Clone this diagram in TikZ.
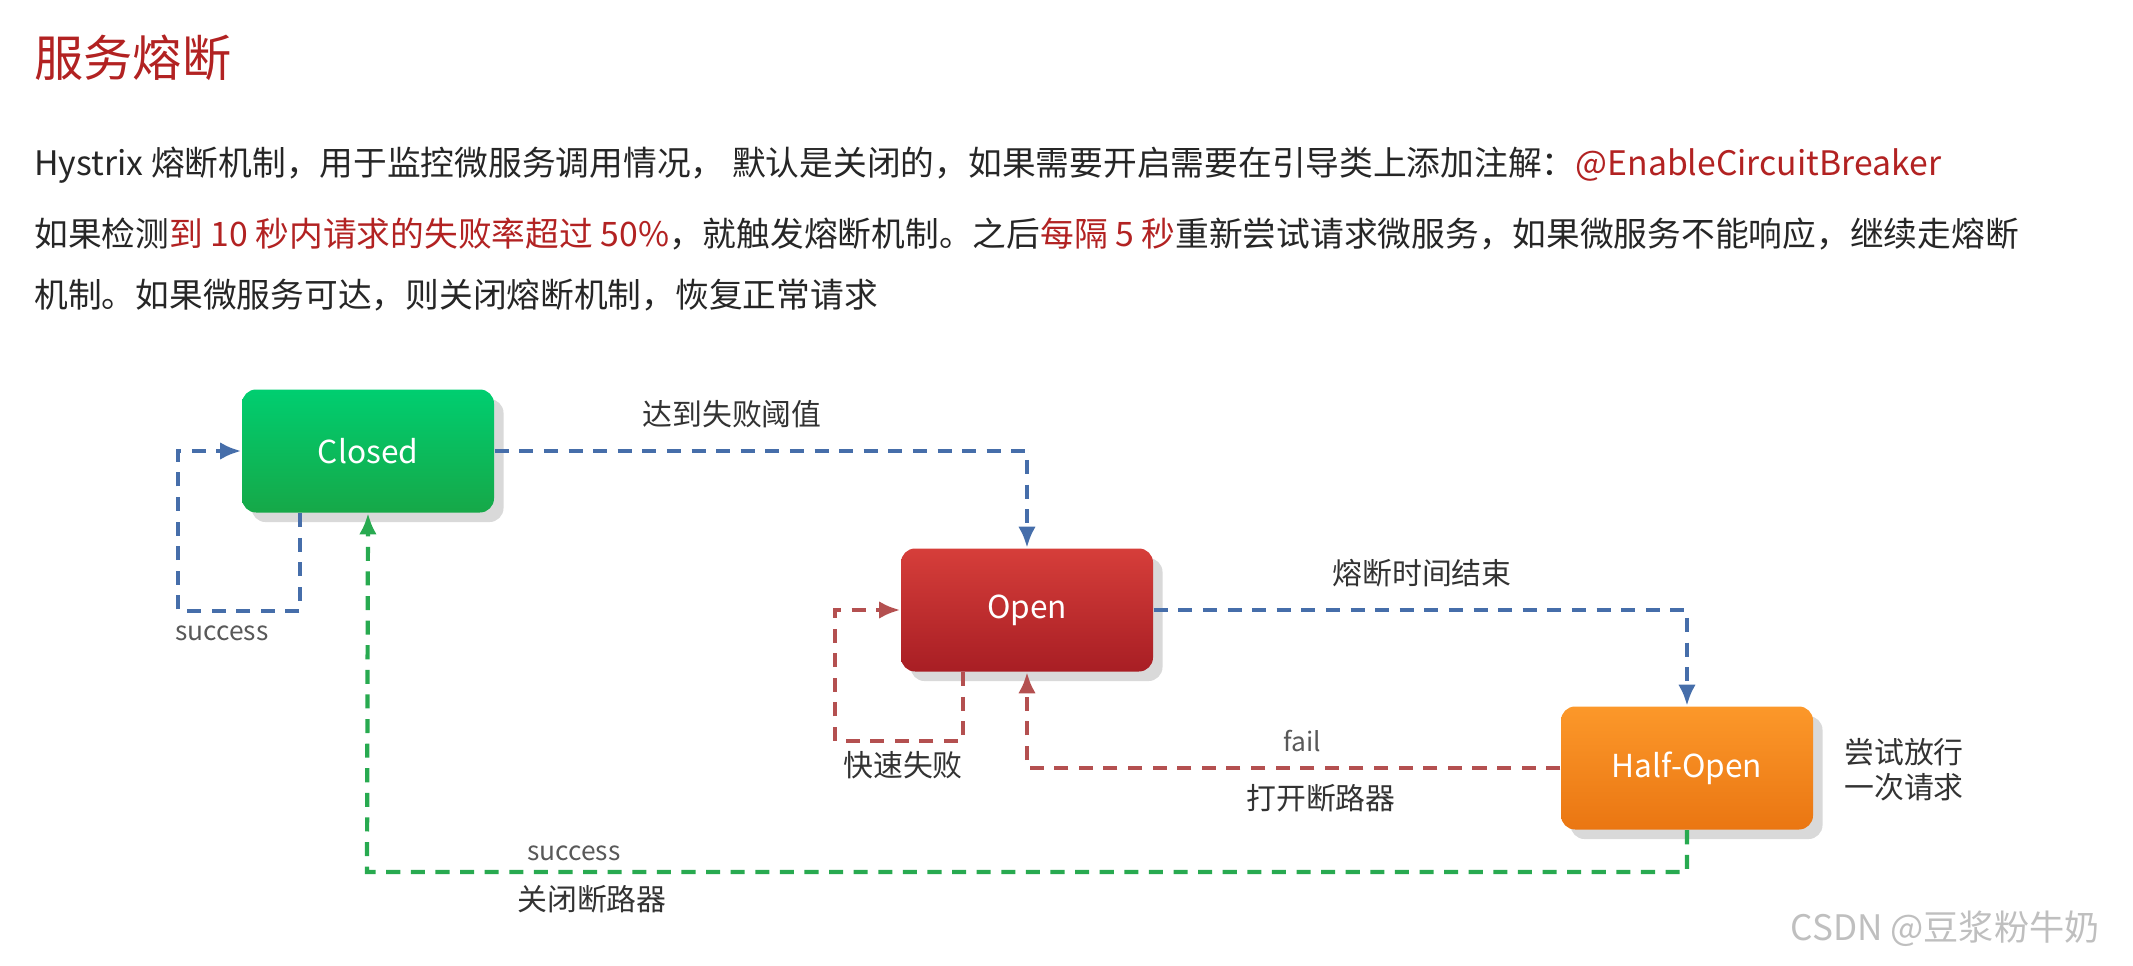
\documentclass[tikz,border=0pt]{standalone}
\usepackage{fontspec}
\setmainfont{Noto Sans CJK SC}
\usetikzlibrary{positioning, shadows, arrows.meta}
\definecolor{titlered}{RGB}{178,34,34}
\definecolor{lineblue}{RGB}{70,110,170}
\definecolor{linered}{RGB}{180,80,80}
\definecolor{linegreen}{RGB}{40,170,80}
\tikzset{
  state/.style={rounded corners=4pt, minimum width=2.52cm, minimum height=1.23cm,
    text=white, font=\fontsize{9}{10}\selectfont, drop shadow={opacity=0.3}},
  flow/.style={dashed, dash pattern=on 4pt off 3pt, line width=1.2pt, -{Latex[length=6pt,width=5pt]}},
  lbl/.style={font=\fontsize{8.5}{10}\selectfont, text=black!80},
  small/.style={font=\fontsize{7.5}{9}\selectfont, text=black!65},
  body/.style={anchor=west, font=\fontsize{9.6}{11}\selectfont, text=black!85}
}
\begin{document}
\begin{tikzpicture}[x=0.1mm, y=-0.1mm]
    \useasboundingbox (0,0) rectangle (2133,966);
    % Title and text
    \node[anchor=west, text=titlered, font=\fontsize{14}{16}\selectfont] (title) at (22,58) {服务熔断};
    \node[body] (line1) at (22,165) {Hystrix 熔断机制，用于监控微服务调用情况， 默认是关闭的，如果需要开启需要在引导类上添加注解：\textcolor{titlered}{@EnableCircuitBreaker}};
    \node[body] (line2) at (22,234) {如果检测\textcolor{titlered}{到 10 秒内请求的失败率超过 50\%}，就触发熔断机制。之后\textcolor{titlered}{每隔 5 秒}重新尝试请求微服务，如果微服务不能响应，继续走熔断};
    \node[body] (line3) at (22,295) {机制。如果微服务可达，则关闭熔断机制，恢复正常请求};

    % States
    \node[state, top color={rgb,255:red,0;green,206;blue,112}, bottom color={rgb,255:red,22;green,168;blue,72}] (closed) at (368,451) {Closed};
    \node[state, top color={rgb,255:red,214;green,62;blue,58}, bottom color={rgb,255:red,168;green,30;blue,36}] (open) at (1027,610) {Open};
    \node[state, top color={rgb,255:red,252;green,152;blue,42}, bottom color={rgb,255:red,234;green,118;blue,18}] (half) at (1687,768) {Half-Open};

    % Helper points
    \coordinate (c1) at (178,611);
    \coordinate (o1) at (835,741);
    \coordinate (g1) at (367,872);

    % Closed loop
    \draw[flow, lineblue] ([xshift=-0.68cm]closed.south) |- (c1) |- (closed.west);
    \node[small] (succ1) at (222,633) {success};

    % Closed -> Open
    \draw[flow, lineblue] (closed.east) -| (open.north);
    \node[lbl] (reach) at (732,414) {达到失败阈值};

    % Open loop
    \draw[flow, linered] ([xshift=-0.64cm]open.south) |- (o1) |- (open.west);
    \node[lbl] (fast) at (903,765) {快速失败};

    % Open -> Half-Open
    \draw[flow, lineblue] (open.east) -| (half.north);
    \node[lbl] (timeout) at (1422,573) {熔断时间结束};

    % Half-Open -> Open
    \draw[flow, linered] (half.west) -| (open.south);
    \node[small] (fail) at (1302,741) {fail};
    \node[lbl] (tripopen) at (1321,798) {打开断路器};

    % Half-Open -> Closed
    \draw[flow, linegreen] (half.south) |- (g1) -- (closed.south);
    \node[small] (succ2) at (574,853) {success};
    \node[lbl] (tripclose) at (592,899) {关闭断路器};

    \node[lbl, align=center] (tryonce) at (1904,770) {尝试放行\\一次请求};

    % Watermark
    \node[text=black!25, font=\fontsize{10}{12}\selectfont] (mark) at (1945,929) {CSDN @豆浆粉牛奶};
\end{tikzpicture}
\end{document}
